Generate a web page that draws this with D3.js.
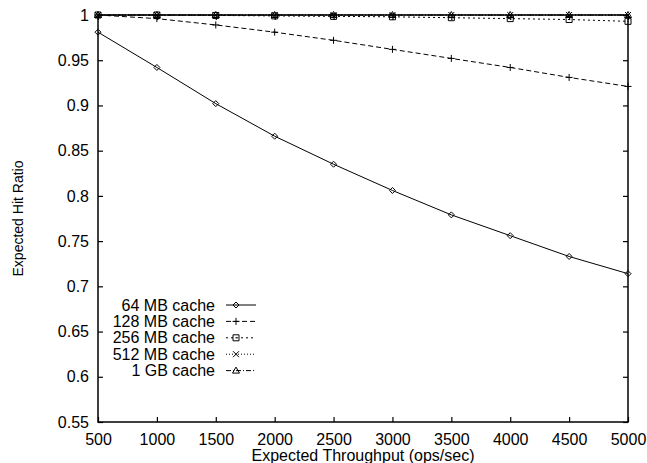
<!DOCTYPE html>
<html>
<head>
<meta charset="utf-8">
<script src="https://cdn.jsdelivr.net/npm/d3@7"></script>
<style>
  body { margin: 0; background: #fff; }
  text { font-family: "Liberation Sans", Arial, sans-serif; fill: #000; }
</style>
</head>
<body>
<div id="canvas"></div>
<script>
"use strict"

/* Data */
let throughput = [500, 1000, 1500, 2000, 2500, 3000, 3500, 4000, 4500, 5000];
let hit64  = [0.981, 0.942, 0.902, 0.866, 0.835, 0.806, 0.779, 0.756, 0.733, 0.714];
let hit128 = [1.0, 0.996, 0.989, 0.981, 0.972, 0.962, 0.952, 0.942, 0.931, 0.921];
let hit256 = [1.0, 1.0, 0.9995, 0.999, 0.9985, 0.998, 0.997, 0.996, 0.995, 0.993];
let hit512 = [1.0, 1.0, 1.0, 1.0, 1.0, 1.0, 1.0, 1.0, 1.0, 1.0];
let hit1g  = [1.0, 1.0, 1.0, 1.0, 1.0, 1.0, 1.0, 1.0, 1.0, 1.0];
let seriesNames = ["64 MB cache", "128 MB cache", "256 MB cache", "512 MB cache", "1 GB cache"];
let xTicks = [500, 1000, 1500, 2000, 2500, 3000, 3500, 4000, 4500, 5000];
let yTicks = [0.55, 0.6, 0.65, 0.7, 0.75, 0.8, 0.85, 0.9, 0.95, 1];

/* Drawing configuration */
let svgWidth = 647;
let svgHeight = 463;
let plot = { left: 98, right: 628, top: 15, bottom: 422 };

let svg = d3.select("#canvas")
    .append("svg")
    .attr("width", svgWidth)
    .attr("height", svgHeight);

let xScale = d3.scaleLinear()
    .domain([500, 5000])
    .range([plot.left, plot.right]);

let yScale = d3.scaleLinear()
    .domain([0.55, 1])
    .range([plot.bottom, plot.top]);

// line styles like gnuplot's dashed postscript terminal
let dashes = [null, "5,3", "2,3", "1,2", "5,2,1,2"];
let series = [hit64, hit128, hit256, hit512, hit1g].map((vals, i) => ({
    name: seriesNames[i],
    dash: dashes[i],
    points: throughput.map((t, j) => ({ x: t, y: vals[j] }))
}));

/* point markers */
function marker(g, kind) {
    let p = g.append("path")
        .attr("fill", "none")
        .attr("stroke", "#000")
        .attr("stroke-width", 1);
    if (kind === 0) p.attr("d", "M0,-3L3,0L0,3L-3,0Z");
    if (kind === 1) p.attr("d", "M-3.5,0H3.5M0,-3.5V3.5");
    if (kind === 2) p.attr("d", "M-3,-3H3V3H-3Z M-0.5,0H0.5");
    if (kind === 3) p.attr("d", "M-3,-3L3,3M-3,3L3,-3");
    if (kind === 4) p.attr("d", "M0,-3.5L3.5,2.5H-3.5Z");
}

/* axes: inward ticks on all four sides */
svg.append("g")
    .attr("transform", "translate(0," + plot.bottom + ")")
    .call(d3.axisBottom(xScale).tickValues(xTicks).tickSizeInner(-5).tickSizeOuter(0).tickPadding(12)
        .tickFormat(d3.format("d")))
    .call(g => g.select(".domain").remove())
    .call(g => g.selectAll("text").style("font-size", "16px").attr("fill", "#000"));

svg.append("g")
    .attr("transform", "translate(0," + plot.top + ")")
    .call(d3.axisTop(xScale).tickValues(xTicks).tickSizeInner(-5).tickSizeOuter(0).tickFormat(""))
    .call(g => g.select(".domain").remove());

svg.append("g")
    .attr("transform", "translate(" + plot.left + ",0)")
    .call(d3.axisLeft(yScale).tickValues(yTicks).tickSizeInner(-5).tickSizeOuter(0).tickPadding(9)
        .tickFormat(d3.format("~g")))
    .call(g => g.select(".domain").remove())
    .call(g => g.selectAll("text").style("font-size", "16px").attr("fill", "#000"));

svg.append("g")
    .attr("transform", "translate(" + plot.right + ",0)")
    .call(d3.axisRight(yScale).tickValues(yTicks).tickSizeInner(-5).tickSizeOuter(0).tickFormat(""))
    .call(g => g.select(".domain").remove());

svg.selectAll(".tick line").attr("stroke", "#000").attr("stroke-width", 1.2);

/* plot border */
svg.append("rect")
    .attr("x", plot.left)
    .attr("y", plot.top)
    .attr("width", plot.right - plot.left)
    .attr("height", plot.bottom - plot.top)
    .attr("fill", "none")
    .attr("stroke", "#000")
    .attr("stroke-width", 1.5);

/* lines and points */
let line = d3.line()
    .x(d => xScale(d.x))
    .y(d => yScale(d.y));

series.forEach((s, i) => {
    svg.append("path")
        .datum(s.points)
        .attr("fill", "none")
        .attr("stroke", "#000")
        .attr("stroke-width", 1)
        .attr("stroke-dasharray", s.dash)
        .attr("d", line);

    s.points.forEach(p => {
        let g = svg.append("g")
            .attr("transform", "translate(" + xScale(p.x) + "," + yScale(p.y) + ")");
        marker(g, i);
    });
});

/* axis labels */
svg.append("text")
    .attr("x", (plot.left + plot.right) / 2)
    .attr("y", 461)
    .attr("text-anchor", "middle")
    .style("font-size", "16px")
    .text("Expected Throughput (ops/sec)");

svg.append("text")
    .attr("transform", "translate(23," + ((plot.top + plot.bottom) / 2) + ") rotate(-90)")
    .attr("text-anchor", "middle")
    .style("font-size", "14px")
    .text("Expected Hit Ratio");

/**** Key (legend) ****/
let key = svg.append("g")
    .attr("transform", "translate(215,305)");

series.forEach((s, i) => {
    let row = key.append("g")
        .attr("transform", "translate(0," + (i * 16.4) + ")");
    row.append("text")
        .attr("text-anchor", "end")
        .attr("dy", "0.35em")
        .style("font-size", "16px")
        .text(s.name);
    row.append("line")
        .attr("x1", 11)
        .attr("x2", 41)
        .attr("stroke", "#000")
        .attr("stroke-width", 1)
        .attr("stroke-dasharray", s.dash);
    let m = row.append("g").attr("transform", "translate(21,0)");
    marker(m, i);
});
</script>
</body>
</html>
